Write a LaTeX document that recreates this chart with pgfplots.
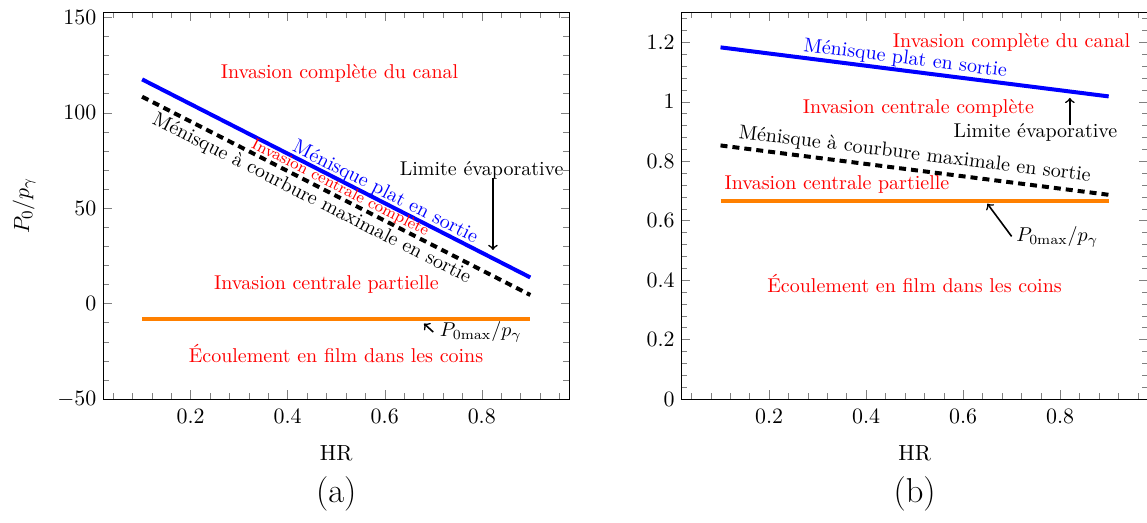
\documentclass[border=0pt]{standalone}
\usepackage{pgfplots}
\pgfplotsset{compat=1.18}
\pgfplotsset{
  every axis/.append style={
    tick label style={font=\fontsize{10.95}{13.6}\selectfont},
    label style={font=\fontsize{10.95}{13.6}\selectfont},
    xticklabel style={yshift=-1.5pt},
    xlabel shift=4.5pt,
    ylabel shift=4pt,
  },
}
\begin{document}
\begin{tikzpicture}
\path[use as bounding box] (0pt,0pt) rectangle (573.5pt,261.5pt);
\begin{axis}[
  at={(51.65pt,62pt)}, anchor=south west,
  scale only axis, width=232.9pt, height=193.2pt,
  xmin=0.02, xmax=0.98, ymin=-50, ymax=152.5,
  xtick distance=0.2, ytick distance=50,
  minor x tick num=4, minor y tick num=4,
  xlabel={HR}, ylabel={$P_0/p_\gamma$},
  clip=false,
]
\addplot[blue, line width=2pt] coordinates {(0.1,117.5) (0.9,13.7)};
\addplot[black, dash pattern=on 3.5pt off 2.5pt, line width=2pt] coordinates {(0.1,108.4) (0.9,4.5)};
\addplot[orange, line width=2pt] coordinates {(0.1,-7.9) (0.9,-7.9)};
\node[red] at (axis cs:0.507,120.5) {Invasion complète du canal};
\node[blue, rotate=-26.9] at (axis cs:0.601,58.2) {Ménisque plat en sortie};
\node[red, rotate=-26.9, font=\footnotesize] at (axis cs:0.508,60.5) {Invasion centrale complète};
\node[rotate=-26.9] at (axis cs:0.4495,54.9) {Ménisque à courbure maximale en sortie};
\node at (axis cs:0.80,69.8) {Limite évaporative};
\draw[->, thick] (axis cs:0.823,65.8) -- (axis cs:0.823,28.1);
\node[red] at (axis cs:0.480,10.2) {Invasion centrale partielle};
\draw[->, thick] (axis cs:0.700,-14.9) -- (axis cs:0.681,-10.5);
\node[anchor=west, inner sep=0pt] at (axis cs:0.713,-15) {$P_{0\mathrm{max}}/p_\gamma$};
\node[red] at (axis cs:0.4996,-26) {Écoulement en film dans les coins};
\node[font=\LARGE] at (rel axis cs:0.5,0) [yshift=-47.5pt] {(a)};
\end{axis}
\begin{axis}[
  at={(340.85pt,62pt)}, anchor=south west,
  scale only axis, width=232.9pt, height=193.2pt,
  xmin=0.02, xmax=0.98, ymin=0, ymax=1.3,
  xtick distance=0.2, ytick distance=0.2,
  minor x tick num=4, minor y tick num=4,
  xlabel={HR},
  clip=false,
]
\addplot[blue, line width=2pt] coordinates {(0.1,1.183) (0.9,1.018)};
\addplot[black, dash pattern=on 3.5pt off 2.5pt, line width=2pt] coordinates {(0.1,0.853) (0.9,0.687)};
\addplot[orange, line width=2pt] coordinates {(0.1,0.667) (0.9,0.667)};
\node[red] at (axis cs:0.70,1.198) {Invasion complète du canal};
\node[blue, rotate=-7.2] at (axis cs:0.481,1.144) {Ménisque plat en sortie};
\node[red] at (axis cs:0.508,0.979) {Invasion centrale complète};
\draw[->, thick] (axis cs:0.82,0.923) -- (axis cs:0.82,1.013);
\node at (axis cs:0.749,0.897) {Limite évaporative};
\node[rotate=-7.0] at (axis cs:0.5005,0.822) {Ménisque à courbure maximale en sortie};
\node[red] at (axis cs:0.34,0.721) {Invasion centrale partielle};
\draw[->, thick] (axis cs:0.70,0.547) -- (axis cs:0.65,0.657);
\node[anchor=west, inner sep=0pt] at (axis cs:0.709,0.547) {$P_{0\mathrm{max}}/p_\gamma$};
\node[red] at (axis cs:0.50,0.387) {Écoulement en film dans les coins};
\node[font=\LARGE] at (rel axis cs:0.5,0) [yshift=-47.5pt] {(b)};
\end{axis}
\end{tikzpicture}
\end{document}
